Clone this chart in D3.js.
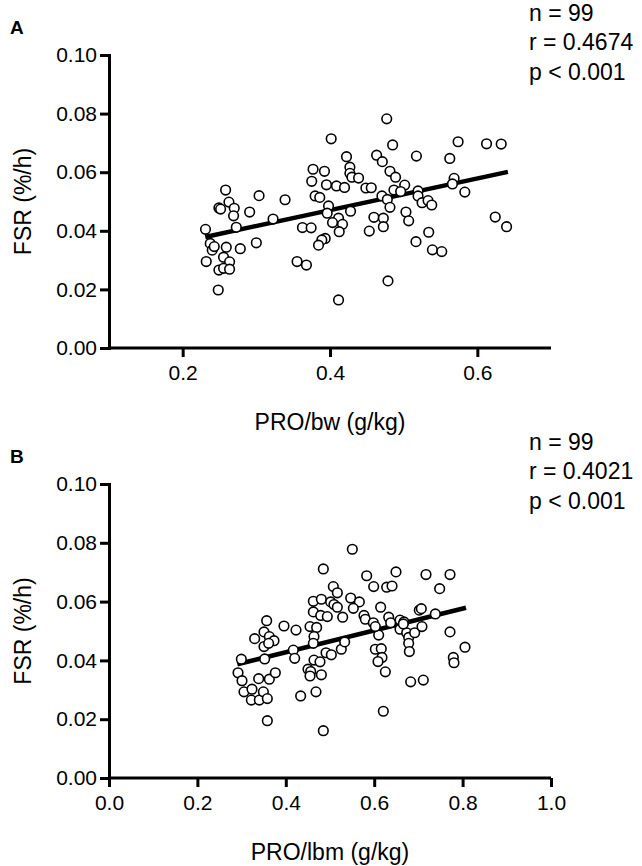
<!DOCTYPE html>
<html><head><meta charset="utf-8">
<script src="https://cdn.jsdelivr.net/npm/d3@7"></script>
<style>
html,body{margin:0;padding:0;background:#fff;}
text{font-family:Arial,"Liberation Sans",sans-serif;fill:#000;}
</style></head>
<body>
<svg id="c" width="642" height="866"></svg>
<script>
// ---------- DATA ----------
const panelLabels = ["A", "B"];
const xTitles = ["PRO/bw (g/kg)", "PRO/lbm (g/kg)"];
const yTitle = "FSR (%/h)";
const statsA = ["n = 99", "r = 0.4674", "p < 0.001"];
const statsB = ["n = 99", "r = 0.4021", "p < 0.001"];
const xTicksA = [0.2, 0.4, 0.6];
const xTicksB = [0.0, 0.2, 0.4, 0.6, 0.8, 1.0];
const yTicks = [0.00, 0.02, 0.04, 0.06, 0.08, 0.10];

// Panel A: PRO/bw vs FSR
const proBw = [0.477,0.4016,0.485,0.4224,0.4633,0.471,0.5173,0.427,0.377,0.3925,0.427,0.4297,0.4388,0.4814,0.489,0.3752,0.3952,0.4088,0.4197,0.4487,0.456,0.5014,0.4868,0.4959,0.5195,0.4705,0.3798,0.3861,0.4778,0.4814,0.398,0.3962,0.4279,0.5031,0.5068,0.4596,0.4724,0.4724,0.4533,0.4116,0.4034,0.417,0.4125,0.3626,0.3744,0.3935,0.3889,0.3844,0.3553,0.368,0.4787,0.4116,0.5167,0.3227,0.339,0.3037,0.2909,0.300,0.2782,0.2583,0.2628,0.2492,0.27,0.2691,0.2728,0.231,0.2374,0.2401,0.2429,0.2592,0.232,0.2555,0.2637,0.2492,0.2555,0.2637,0.2483,0.5739,0.6125,0.6324,0.5626,0.5685,0.5662,0.583,0.5195,0.525,0.5331,0.5381,0.6243,0.6397,0.534,0.539,0.5517,0.2515];
const fsrA = [0.0782,0.0714,0.0693,0.0653,0.0658,0.0636,0.0655,0.0617,0.061,0.0603,0.0596,0.0583,0.058,0.0603,0.0583,0.0569,0.0557,0.0553,0.0548,0.0546,0.0547,0.0556,0.0539,0.0534,0.0536,0.0519,0.0519,0.0514,0.0507,0.048,0.0485,0.046,0.0467,0.0464,0.0434,0.0446,0.0443,0.0414,0.0399,0.0443,0.0428,0.0422,0.0397,0.0411,0.041,0.0374,0.0369,0.0351,0.0295,0.0283,0.0229,0.0164,0.0363,0.044,0.0506,0.052,0.0464,0.0359,0.0339,0.0539,0.0498,0.0478,0.0477,0.0451,0.0412,0.0405,0.0357,0.0334,0.0346,0.0344,0.0295,0.031,0.0294,0.0266,0.0272,0.0269,0.0198,0.0704,0.0697,0.0696,0.0647,0.0579,0.056,0.0532,0.0519,0.0496,0.0503,0.0488,0.0447,0.0414,0.0395,0.0335,0.0329,0.0474];
const fitA_x = [0.2306, 0.6415];
const fitA_y = [0.0379, 0.0601];

// Panel B: PRO/lbm vs FSR
const proLbm = [0.5505,0.4849,0.583,0.6493,0.5988,0.6282,0.6403,0.5075,0.5166,0.4623,0.4804,0.5015,0.509,0.5166,0.5468,0.5664,0.5528,0.6146,0.4623,0.479,0.4939,0.5287,0.5769,0.5799,0.598,0.6328,0.6373,0.6584,0.6674,0.702,0.6101,0.6025,0.6584,0.6735,0.678,0.678,0.6795,0.6916,0.3567,0.3507,0.3296,0.3627,0.3733,0.3507,0.3612,0.3959,0.4231,0.4548,0.4698,0.4638,0.4623,0.417,0.4201,0.3522,0.2994,0.2919,0.3009,0.3054,0.3235,0.322,0.3386,0.3401,0.3492,0.3582,0.3627,0.3763,0.3582,0.4336,0.4683,0.4849,0.4502,0.4563,0.4548,0.4804,0.4638,0.4774,0.491,0.503,0.5256,0.5332,0.6025,0.616,0.6176,0.6086,0.6252,0.6825,0.6206,0.7172,0.7715,0.7481,0.7066,0.7383,0.6659,0.7081,0.7715,0.8054,0.779,0.7805,0.7111];
const fsrB = [0.0778,0.0711,0.0688,0.0701,0.0651,0.0649,0.0653,0.0651,0.063,0.0601,0.0608,0.0599,0.059,0.0581,0.0612,0.0599,0.0577,0.0581,0.0565,0.0553,0.0549,0.0547,0.0553,0.054,0.0528,0.0547,0.0528,0.0537,0.0531,0.0571,0.0486,0.0515,0.0506,0.0494,0.0478,0.0458,0.043,0.0494,0.0535,0.0497,0.0474,0.0481,0.0467,0.0447,0.0458,0.0517,0.0503,0.0515,0.0512,0.0481,0.0458,0.0435,0.0407,0.0405,0.0404,0.0358,0.0331,0.0293,0.0302,0.0265,0.0338,0.0265,0.0293,0.027,0.0336,0.0358,0.0195,0.0279,0.0293,0.0161,0.037,0.0362,0.0347,0.0351,0.0401,0.0395,0.0426,0.0419,0.0438,0.0463,0.0438,0.044,0.041,0.0396,0.0361,0.0327,0.0227,0.0692,0.0692,0.0644,0.0576,0.0558,0.0524,0.0515,0.0497,0.0445,0.041,0.0392,0.0333];
const fitB_x = [0.2903, 0.8077];
const fitB_y = [0.0387, 0.0579];

// ---------- DRAW ----------
const svg = d3.select("#c");
const panels = [
  {label: panelLabels[0], xs: proBw, ys: fsrA, fx: fitA_x, fy: fitA_y, xdom: [0.1, 0.7], xticks: xTicksA,
   fmt: d3.format(".1f"), title: xTitles[0], stats: statsA, top: 55, bottom: 348},
  {label: panelLabels[1], xs: proLbm, ys: fsrB, fx: fitB_x, fy: fitB_y, xdom: [0, 1], xticks: xTicksB,
   fmt: d3.format(".1f"), title: xTitles[1], stats: statsB, top: 484, bottom: 778}
];
const left = 109, right = 551;

panels.forEach(p => {
  const x = d3.scaleLinear().domain(p.xdom).range([left, right]);
  const y = d3.scaleLinear().domain([0, 0.1]).range([p.bottom, p.top]);
  const g = svg.append("g");

  // y axis
  const ya = g.append("g").attr("transform", `translate(${left},0)`)
    .call(d3.axisLeft(y).tickValues(yTicks).tickFormat(d3.format(".2f")).tickSize(9).tickSizeOuter(0).tickPadding(3));
  // x axis
  const xa = g.append("g").attr("transform", `translate(0,${p.bottom})`)
    .call(d3.axisBottom(x).tickValues(p.xticks).tickFormat(p.fmt).tickSize(9).tickSizeOuter(0).tickPadding(8));
  [ya, xa].forEach(a => {
    a.select(".domain").attr("stroke", "#000").attr("stroke-width", 3);
    a.selectAll(".tick line").attr("stroke", "#000").attr("stroke-width", 3);
    a.selectAll(".tick text").style("font-size", "21px").attr("fill", "#000")
      .style("font-family", "Arial, 'Liberation Sans', sans-serif");
  });
  ya.select(".domain").attr("stroke-linecap", "square");
  xa.select(".domain").attr("d", `M${left},0H${right}`);

  // fit line
  g.append("line")
    .attr("x1", x(p.fx[0])).attr("y1", y(p.fy[0]))
    .attr("x2", x(p.fx[1])).attr("y2", y(p.fy[1]))
    .attr("stroke", "#000").attr("stroke-width", 4.5);

  // points
  g.append("g").selectAll("circle").data(p.xs.map((v, i) => [v, p.ys[i]])).join("circle")
    .attr("cx", d => x(d[0])).attr("cy", d => y(d[1])).attr("r", 4.8)
    .attr("fill", "#fff").attr("stroke", "#000").attr("stroke-width", 1.6);

  // axis titles
  const cy = (p.top + p.bottom) / 2;
  g.append("text").attr("transform", `translate(23,${cy}) rotate(-90)`)
    .attr("text-anchor", "middle").attr("dominant-baseline", "central")
    .style("font-size", "23px").text(yTitle);
  g.append("text").attr("x", (left + right) / 2).attr("y", p.bottom + 82)
    .attr("text-anchor", "middle").style("font-size", "23px").text(p.title);

  // panel label
  g.append("text").attr("x", 10).attr("y", p.top - 21)
    .style("font-size", "19px").style("font-weight", "bold").text(p.label);

  // stats
  p.stats.forEach((s, i) => {
    g.append("text").attr("x", 529).attr("y", p.top - 34 + i * 29.3)
      .style("font-size", "23px").text(s);
  });
});
</script>
</body></html>
